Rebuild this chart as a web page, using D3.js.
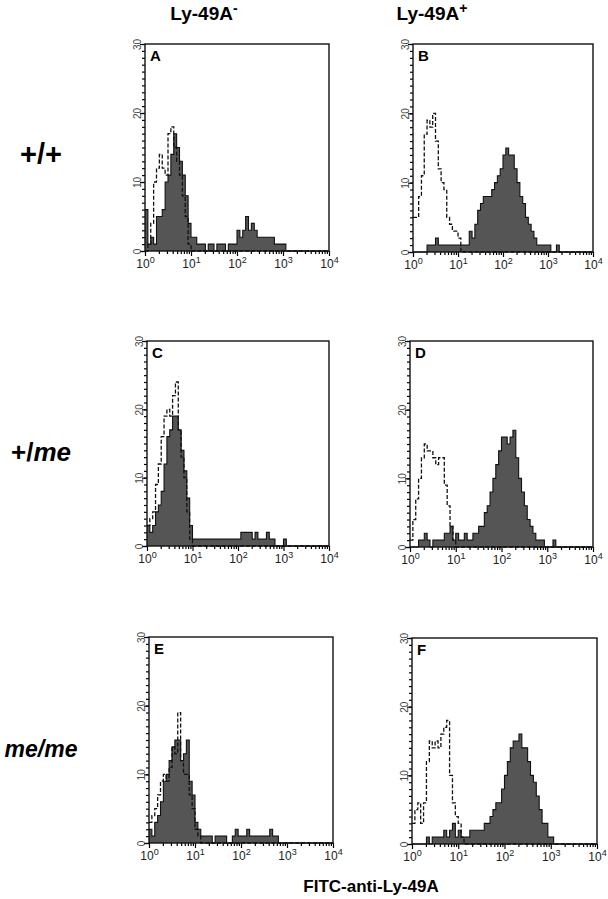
<!DOCTYPE html>
<html>
<head>
<meta charset="utf-8">
<script src="https://cdn.jsdelivr.net/npm/d3@7"></script>
<style>
  body { margin: 0; background: #fff; }
  svg { display: block; font-family: "Liberation Sans", Arial, sans-serif; }
</style>
</head>
<body>
<div id="chart"></div>
<script>
// ---- data (16 bins per decade, 10^0 .. 10^4) ----
var panelLetters = ["A", "B", "C", "D", "E", "F"];
var colHeaders = ["Ly-49A", "Ly-49A"];
var colSigns = ["-", "+"];
var rowLabels = [["+/+", ""], ["+/", "me"], ["", "me/me"]];
var xTickExps = [0, 1, 2, 3, 4];
var yTicks = [0, 10, 20, 30];
var xTitle = "FITC-anti-Ly-49A";

var filledA = [6,1,2,1,5,5,6,10,11,14,17,15,13,11,8,4,
               2,2,1,1,1,0,1,1,0,1,1,1,0,1,1,1,
               3,2,3,5,3,4,3,2,2,2,2,2,2,1,1,1,
               1,0,0,0,0,0,0,0,0,0,0,0,0,0,0,0];
var dashedA = [0,1,4,10,12,14,12,11,17,18,15,13,11,8,5,1,
               0,0,0,0,0,0,0,0,0,0,0,0,0,0,0,0,
               0,0,0,0,0,0,0,0,0,0,0,0,0,0,0,0,
               0,0,0,0,0,0,0,0,0,0,0,0,0,0,0,0];
var filledB = [0,0,0,0,0,1,1,1,2,1,1,1,1,1,1,1,
               1,1,1,1,3,2,4,6,7,8,8,8,9,10,11,12,
               14,15,14,14,12,10,8,7,5,4,3,2,1,1,1,1,
               1,0,0,1,0,0,0,0,0,0,0,0,0,0,0,0];
var dashedB = [5,5,8,11,17,19,18,20,16,12,10,9,5,4,3,3,
               2,0,0,0,0,0,0,0,0,0,0,0,0,0,0,0,
               0,0,0,0,0,0,0,0,0,0,0,0,0,0,0,0,
               0,0,0,0,0,0,0,0,0,0,0,0,0,0,0,0];
var filledC = [3,2,3,5,6,8,12,16,17,19,19,17,14,11,7,3,
               1,1,1,1,1,1,1,1,1,1,1,1,1,1,1,1,
               1,2,2,2,2,1,2,1,1,1,2,1,1,0,0,0,
               1,0,0,0,0,0,0,0,0,0,0,0,0,0,0,0];
var dashedC = [3,4,5,9,12,16,19,20,19,22,24,17,13,10,5,1,
               0,0,0,0,0,0,0,0,0,0,0,0,0,0,0,0,
               0,0,0,0,0,0,0,0,0,0,0,0,0,0,0,0,
               0,0,0,0,0,0,0,0,0,0,0,0,0,0,0,0];
var filledD = [0,0,0,1,1,2,1,0,1,1,1,1,2,2,3,1,
               2,1,1,2,1,1,2,2,3,3,5,6,8,10,12,14,
               16,16,15,16,17,13,10,8,6,4,3,2,1,1,1,0,
               0,0,1,0,0,0,0,0,0,0,0,0,0,0,0,0];
var dashedD = [1,4,7,10,13,15,14,14,13,12,13,13,9,6,3,1,
               0,0,0,0,0,0,0,0,0,0,0,0,0,0,0,0,
               0,0,0,0,0,0,0,0,0,0,0,0,0,0,0,0,
               0,0,0,0,0,0,0,0,0,0,0,0,0,0,0,0];
var filledE = [2,1,3,4,6,9,10,12,14,15,15,12,13,15,9,7,
               3,2,1,1,1,1,0,1,1,1,1,0,0,1,2,1,
               1,1,2,1,1,1,1,1,1,1,2,1,1,0,0,0,
               0,0,0,0,0,0,0,0,0,0,0,0,0,0,0,0];
var dashedE = [3,4,5,7,9,10,9,11,14,13,19,12,10,10,7,5,
               2,1,0,0,0,0,0,0,0,0,0,0,0,0,0,0,
               0,0,0,0,0,0,0,0,0,0,0,0,0,0,0,0,
               0,0,0,0,0,0,0,0,0,0,0,0,0,0,0,0];
var filledF = [0,0,0,0,0,1,0,1,1,1,1,2,1,2,3,1,
               2,1,1,1,2,2,2,2,2,3,3,4,5,6,6,8,
               10,12,14,15,15,16,14,14,12,10,9,7,5,3,3,1,
               1,0,0,0,0,0,0,0,0,0,0,0,0,0,0,0];
var dashedF = [3,5,6,3,6,12,15,14,15,14,16,17,18,10,6,4,
               3,1,0,0,0,0,0,0,0,0,0,0,0,0,0,0,
               0,0,0,0,0,0,0,0,0,0,0,0,0,0,0,0,
               0,0,0,0,0,0,0,0,0,0,0,0,0,0,0,0];

var filledSeries = [filledA, filledB, filledC, filledD, filledE, filledF];
var dashedSeries = [dashedA, dashedB, dashedC, dashedD, dashedE, dashedF];
var binsPerDecade = 16;

// ---- layout ----
var width = 608, height = 899;
var boxes = [
  {x: 145, y: 44,  w: 184, h: 207},
  {x: 413, y: 44,  w: 180, h: 208},
  {x: 147, y: 341, w: 182, h: 205},
  {x: 410, y: 341, w: 183, h: 206},
  {x: 149, y: 637, w: 184, h: 206},
  {x: 412, y: 638, w: 185, h: 206}
];

var svg = d3.select("#chart")
  .append("svg")
  .attr("width", width)
  .attr("height", height);

// column headers
var colX = [204, 432];
colHeaders.forEach(function(t, i) {
  var txt = svg.append("text")
    .attr("x", colX[i]).attr("y", 20)
    .attr("text-anchor", "middle")
    .attr("font-weight", "bold")
    .attr("font-size", 19)
    .text(t);
  txt.append("tspan")
    .attr("dy", -7).attr("font-size", 14)
    .text(colSigns[i]);
});

// row labels
var rowY = [164, 461, 757];
var rowSize = [29, 26, 23];
rowLabels.forEach(function(r, i) {
  var txt = svg.append("text")
    .attr("x", 41).attr("y", rowY[i])
    .attr("text-anchor", "middle")
    .attr("font-weight", "bold")
    .attr("font-size", rowSize[i]);
  if (r[0]) txt.append("tspan").text(r[0]);
  if (r[1]) txt.append("tspan").attr("font-style", "italic").text(r[1]);
});

// x title
svg.append("text")
  .attr("x", 371).attr("y", 892)
  .attr("text-anchor", "middle")
  .attr("font-weight", "bold")
  .attr("font-size", 17)
  .text(xTitle);

function drawPanel(i) {
  var b = boxes[i];
  var g = svg.append("g").attr("transform", "translate(" + b.x + "," + b.y + ")");

  var x = d3.scaleLog().domain([1, 1e4]).range([0, b.w]);
  var y = d3.scaleLinear().domain([0, 30]).range([b.h, 0]);

  function stepPoints(vals) {
    var pts = vals.map(function(v, k) { return [Math.pow(10, k / binsPerDecade), v]; });
    pts.push([1e4, vals[vals.length - 1]]);
    return pts;
  }

  var area = d3.area()
    .curve(d3.curveStepAfter)
    .x(function(d) { return x(d[0]); })
    .y0(y(0))
    .y1(function(d) { return y(d[1]); });
  var line = d3.line()
    .curve(d3.curveStepAfter)
    .x(function(d) { return x(d[0]); })
    .y(function(d) { return y(d[1]); });

  var filled = stepPoints(filledSeries[i]);
  g.append("path")
    .datum(filled)
    .attr("fill", "#555")
    .attr("d", area);
  g.append("path")
    .datum(filled)
    .attr("fill", "none")
    .attr("stroke", "#111")
    .attr("stroke-width", 1.1)
    .attr("d", line);

  g.append("path")
    .datum(stepPoints(dashedSeries[i]))
    .attr("fill", "none")
    .attr("stroke", "#111")
    .attr("stroke-width", 1.3)
    .attr("stroke-dasharray", "4,2")
    .attr("d", line);

  // x axis: minor ticks
  var minor = [];
  for (var e = 0; e < 4; e++) {
    for (var m = 2; m < 10; m++) minor.push(m * Math.pow(10, e));
  }
  var xMin = g.append("g")
    .attr("transform", "translate(0," + b.h + ")")
    .call(d3.axisBottom(x).tickValues(minor).tickSize(3).tickSizeOuter(0).tickFormat(function() { return ""; }));
  xMin.select(".domain").remove();
  var xMaj = g.append("g")
    .attr("transform", "translate(0," + b.h + ")")
    .call(d3.axisBottom(x).tickValues(xTickExps.map(function(e) { return Math.pow(10, e); }))
      .tickSize(5).tickSizeOuter(0).tickFormat(function() { return ""; }));
  xMaj.select(".domain").remove();
  xMaj.selectAll(".tick text").remove();
  xMaj.selectAll(".tick").append("text")
    .attr("y", 17)
    .attr("fill", "#222")
    .attr("font-size", 12)
    .attr("text-anchor", "middle")
    .each(function(d) {
      var t = d3.select(this);
      t.append("tspan").text("10");
      t.append("tspan").attr("dy", -5).attr("font-size", 9).text(Math.round(Math.log10(d)));
    });

  // y axis: minor + major ticks
  var yMin = g.append("g")
    .call(d3.axisLeft(y).tickValues(d3.range(0, 31)).tickSize(3).tickSizeOuter(0).tickFormat(function() { return ""; }));
  yMin.select(".domain").remove();
  var yMaj = g.append("g")
    .call(d3.axisLeft(y).tickValues(yTicks).tickSize(5).tickSizeOuter(0));
  yMaj.select(".domain").remove();
  yMaj.selectAll(".tick text")
    .attr("x", null).attr("dy", null)
    .attr("transform", "translate(-4,0) rotate(-90)")
    .attr("text-anchor", "middle")
    .attr("font-size", 10)
    .attr("fill", "#444")
    .attr("font-family", "\"Liberation Sans\", Arial, sans-serif");

  g.selectAll(".tick line")
    .attr("stroke", "#000")
    .attr("stroke-width", 1.2);

  // frame
  g.append("rect")
    .attr("width", b.w).attr("height", b.h)
    .attr("fill", "none")
    .attr("stroke", "#111")
    .attr("stroke-width", 1.4);

  // panel letter
  g.append("text")
    .attr("x", 5).attr("y", 17)
    .attr("font-weight", "bold")
    .attr("font-size", 15)
    .text(panelLetters[i]);
}

for (var p = 0; p < panelLetters.length; p++) drawPanel(p);
</script>
</body>
</html>
